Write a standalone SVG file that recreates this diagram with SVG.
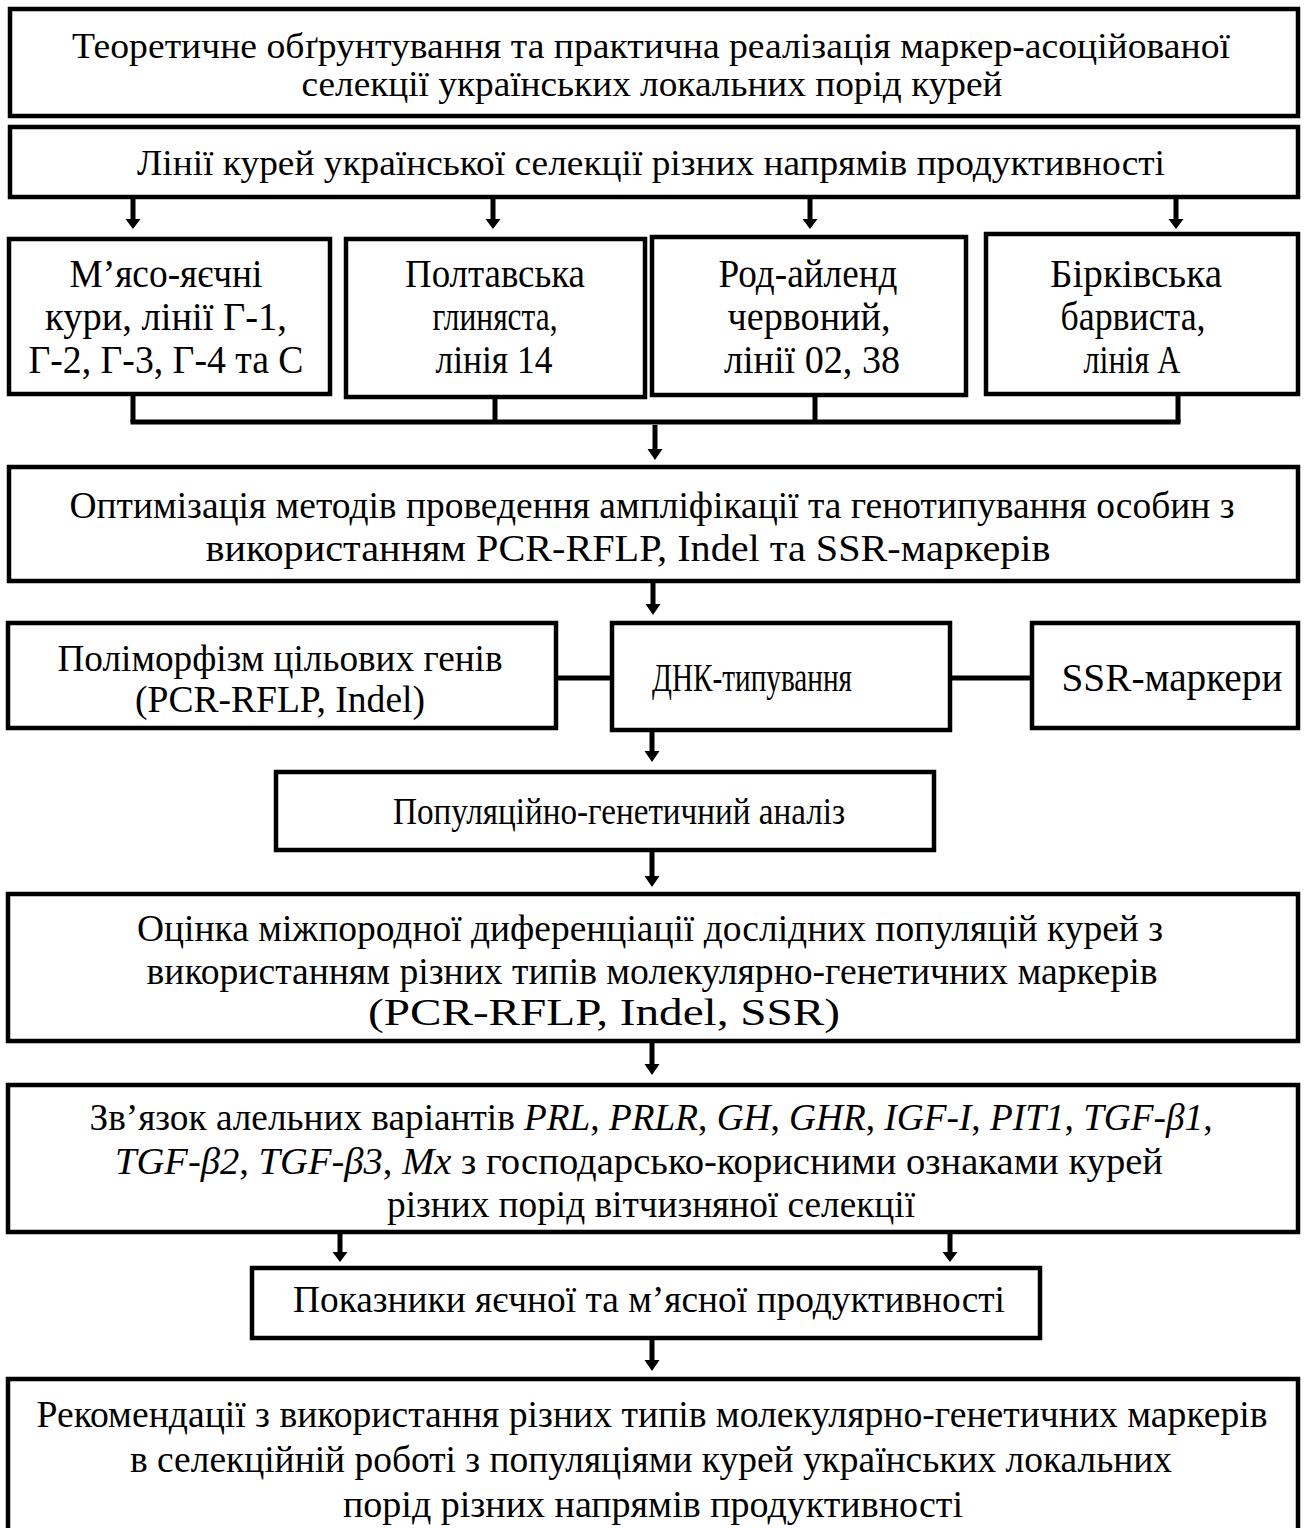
<svg xmlns="http://www.w3.org/2000/svg" width="1306" height="1528" viewBox="0 0 1306 1528">
<style>
.box{fill:#fff;stroke:#000;stroke-width:4.5}
text{fill:#000;text-anchor:middle}
.it{font-style:italic}
.ln{stroke:#000;stroke-width:5;fill:none}
</style>
<g id="connectors">
<line class="ln" x1="133" y1="394" x2="133" y2="422"/>
<line class="ln" x1="495" y1="397" x2="495" y2="422"/>
<line class="ln" x1="815" y1="395" x2="815" y2="422"/>
<line class="ln" x1="1178" y1="394" x2="1178" y2="422"/>
<line class="ln" x1="130.5" y1="422" x2="1180.5" y2="422"/>
<line class="ln" x1="556" y1="678" x2="612" y2="678"/>
<line class="ln" x1="950" y1="678" x2="1032" y2="678"/>
<path d="M130.5,199 h5 v20 h5 l-7.5,10 l-7.5,-10 h5 z" fill="#000"/>
<path d="M490.5,199 h5 v20 h5 l-7.5,10 l-7.5,-10 h5 z" fill="#000"/>
<path d="M807.5,199 h5 v20 h5 l-7.5,10 l-7.5,-10 h5 z" fill="#000"/>
<path d="M1173.5,199 h5 v20 h5 l-7.5,10 l-7.5,-10 h5 z" fill="#000"/>
<path d="M652.5,425 h5 v24 h5 l-7.5,11 l-7.5,-11 h5 z" fill="#000"/>
<path d="M650.5,583 h5 v21 h5 l-7.5,11 l-7.5,-11 h5 z" fill="#000"/>
<path d="M649.5,731 h5 v20 h5 l-7.5,11 l-7.5,-11 h5 z" fill="#000"/>
<path d="M649.5,852 h5 v24 h5 l-7.5,11 l-7.5,-11 h5 z" fill="#000"/>
<path d="M649.5,1043 h5 v21 h5 l-7.5,11 l-7.5,-11 h5 z" fill="#000"/>
<path d="M337.5,1234 h5 v18 h5 l-7.5,10 l-7.5,-10 h5 z" fill="#000"/>
<path d="M947.5,1234 h5 v18 h5 l-7.5,10 l-7.5,-10 h5 z" fill="#000"/>
<path d="M649.5,1340 h5 v20 h5 l-7.5,11 l-7.5,-11 h5 z" fill="#000"/>
</g>
<g font-family="'Liberation Serif', 'Times New Roman', serif">
<g id="n-title" font-size="35">
<rect class="box" x="10" y="9" width="1288" height="107"/>
<text x="651" y="58" textLength="1158" lengthAdjust="spacingAndGlyphs">Теоретичне обґрунтування та практична реалізація маркер-асоційованої</text>
<text x="652" y="96" textLength="701" lengthAdjust="spacingAndGlyphs">селекції українських локальних порід курей</text>
</g>
<g id="n-lines" font-size="36">
<rect class="box" x="10" y="127" width="1288" height="70"/>
<text x="651" y="175" textLength="1028" lengthAdjust="spacingAndGlyphs">Лінії курей української селекції різних напрямів продуктивності</text>
</g>
<g id="n-b1" font-size="39">
<rect class="box" x="9" y="239" width="321" height="155"/>
<text x="166" y="287" textLength="193" lengthAdjust="spacingAndGlyphs">М’ясо-яєчні</text>
<text x="166" y="330" textLength="242" lengthAdjust="spacingAndGlyphs">кури, лінії Г-1,</text>
<text x="166" y="373" textLength="275" lengthAdjust="spacingAndGlyphs">Г-2, Г-3, Г-4 та С</text>
</g>
<g id="n-b2" font-size="39">
<rect class="box" x="346" y="239" width="299" height="158"/>
<text x="495" y="287" textLength="180" lengthAdjust="spacingAndGlyphs">Полтавська</text>
<text x="495" y="330" textLength="125" lengthAdjust="spacingAndGlyphs">глиняста,</text>
<text x="494" y="373" textLength="117" lengthAdjust="spacingAndGlyphs">лінія 14</text>
</g>
<g id="n-b3" font-size="39">
<rect class="box" x="652" y="237" width="314" height="158"/>
<text x="808" y="287" textLength="179" lengthAdjust="spacingAndGlyphs">Род-айленд</text>
<text x="809" y="330" textLength="163" lengthAdjust="spacingAndGlyphs">червоний,</text>
<text x="812" y="373" textLength="176" lengthAdjust="spacingAndGlyphs">лінії 02, 38</text>
</g>
<g id="n-b4" font-size="39">
<rect class="box" x="986" y="234" width="312" height="160"/>
<text x="1136" y="287" textLength="172" lengthAdjust="spacingAndGlyphs">Бірківська</text>
<text x="1133" y="330" textLength="145" lengthAdjust="spacingAndGlyphs">барвиста,</text>
<text x="1132" y="373" textLength="97" lengthAdjust="spacingAndGlyphs">лінія А</text>
</g>
<g id="n-opt" font-size="37">
<rect class="box" x="9" y="467" width="1289" height="114"/>
<text x="652" y="518" textLength="1165" lengthAdjust="spacingAndGlyphs">Оптимізація методів проведення ампліфікації та генотипування особин з</text>
<text x="628" y="561" textLength="845" lengthAdjust="spacingAndGlyphs">використанням PCR-RFLP, Indel та SSR-маркерів</text>
</g>
<g id="n-poly" font-size="38">
<rect class="box" x="8" y="623" width="548" height="105"/>
<text x="280" y="671" textLength="445" lengthAdjust="spacingAndGlyphs">Поліморфізм цільових генів</text>
<text x="280" y="712" textLength="290" lengthAdjust="spacingAndGlyphs">(PCR-RFLP, Indel)</text>
</g>
<g id="n-dnk" font-size="39">
<rect class="box" x="612" y="623" width="338" height="107"/>
<text x="752" y="691" textLength="200" lengthAdjust="spacingAndGlyphs">ДНК-типування</text>
</g>
<g id="n-ssr" font-size="39">
<rect class="box" x="1032" y="623" width="266" height="105"/>
<text x="1172" y="691" textLength="221" lengthAdjust="spacingAndGlyphs">SSR-маркери</text>
</g>
<g id="n-pop" font-size="37">
<rect class="box" x="276" y="772" width="658" height="78"/>
<text x="619" y="824" textLength="452" lengthAdjust="spacingAndGlyphs">Популяційно-генетичний аналіз</text>
</g>
<g id="n-ots" font-size="38">
<rect class="box" x="8" y="894" width="1290" height="147"/>
<text x="650" y="941" textLength="1026" lengthAdjust="spacingAndGlyphs">Оцінка міжпородної диференціації дослідних популяцій курей з</text>
<text x="652" y="984" textLength="1011" lengthAdjust="spacingAndGlyphs">використанням різних типів молекулярно-генетичних маркерів</text>
<text x="604" y="1025" textLength="472" lengthAdjust="spacingAndGlyphs">(PCR-RFLP, Indel, SSR)</text>
</g>
<g id="n-zv" font-size="37">
<rect class="box" x="8" y="1085" width="1290" height="147"/>
<text x="651" y="1130" textLength="1123" lengthAdjust="spacingAndGlyphs">Зв’язок алельних варіантів <tspan class="it">PRL</tspan>, <tspan class="it">PRLR</tspan>, <tspan class="it">GH</tspan>, <tspan class="it">GHR</tspan>, <tspan class="it">IGF-I</tspan>, <tspan class="it">PIT1</tspan>, <tspan class="it">TGF-β1</tspan>,</text>
<text x="639" y="1174" textLength="1048" lengthAdjust="spacingAndGlyphs"><tspan class="it">TGF-β2</tspan>, <tspan class="it">TGF-β3</tspan>, <tspan class="it">Mx</tspan> з господарсько-корисними ознаками курей</text>
<text x="651" y="1217" textLength="528" lengthAdjust="spacingAndGlyphs">різних порід вітчизняної селекції</text>
</g>
<g id="n-pok" font-size="37">
<rect class="box" x="252" y="1268" width="788" height="70"/>
<text x="649" y="1312" textLength="712" lengthAdjust="spacingAndGlyphs">Показники яєчної та м’ясної продуктивності</text>
</g>
<g id="n-rek" font-size="37">
<rect class="box" x="8" y="1379" width="1290" height="170"/>
<text x="652" y="1427" textLength="1231" lengthAdjust="spacingAndGlyphs">Рекомендації з використання різних типів молекулярно-генетичних маркерів</text>
<text x="651" y="1472" textLength="1042" lengthAdjust="spacingAndGlyphs">в селекційній роботі з популяціями курей українських локальних</text>
<text x="653" y="1517" textLength="620" lengthAdjust="spacingAndGlyphs">порід різних напрямів продуктивності</text>
</g>
</g>
</svg>
